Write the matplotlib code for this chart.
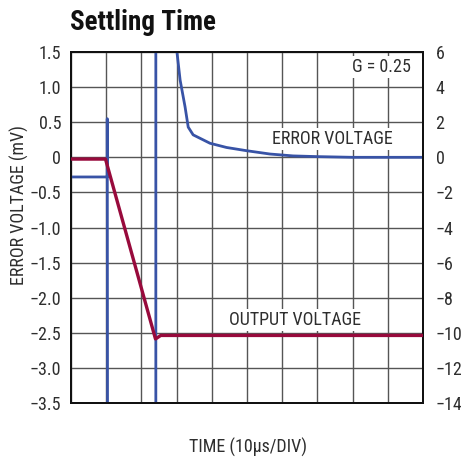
import matplotlib
matplotlib.use("Agg")
from matplotlib import pyplot as plt

# time in divisions (10us/DIV)
err_t = [0, 1.0, 1.03, 1.03, 1.04, 2.41, 2.41, 3.0, 3.01, 3.10, 3.24, 3.33, 3.47,
         3.95, 4.42, 4.99, 5.65, 6.31, 7.0, 8.0, 9.0, 10.0]
err_mv = [-0.28, -0.28, -0.28, 0.55, -5.0, -5.0, 5.0, 5.0, 1.5, 1.10, 0.72, 0.43, 0.32,
          0.20, 0.14, 0.094, 0.047, 0.02, 0.01, 0.0, 0.0, 0.0]

out_t = [0, 0.98, 2.40, 2.55, 5.0, 10.0]
out_v = [-0.1, -0.1, -10.35, -10.15, -10.15, -10.15]

left_ticks = [1.5, 1.0, 0.5, 0, -0.5, -1.0, -1.5, -2.0, -2.5, -3.0, -3.5]
left_labels = ["1.5", "1.0", "0.5", "0", "\u22120.5", "\u22121.0", "\u22121.5",
               "\u22122.0", "\u22122.5", "\u22123.0", "\u22123.5"]
right_ticks = [6, 4, 2, 0, -2, -4, -6, -8, -10, -12, -14]
right_labels = ["6", "4", "2", "0", "\u22122", "\u22124", "\u22126", "\u22128",
                "\u221210", "\u221212", "\u221214"]

plt.rcParams['font.family'] = ['Roboto Condensed', 'DejaVu Sans']

blue = "#3853a6"
red = "#980a3c"
txt = "#2e2e2e"

fig = plt.figure(figsize=(4.61, 4.62), dpi=100)
ax = fig.add_axes([0.154, 0.1277, 0.7636, 0.7597])
ax2 = ax.twinx()

ax.set_xlim(0, 10)
ax.set_ylim(-3.5, 1.5)
ax2.set_ylim(-14, 6)
ax.set_xticks(range(11))
ax.set_xticklabels([])
ax.set_yticks(left_ticks)
ax.set_yticklabels(left_labels)
ax2.set_yticks(right_ticks)
ax2.set_yticklabels(right_labels)
ax.grid(True, color="#555555", linewidth=1.0)
ax.tick_params(length=0, labelsize=13, colors=txt, pad=7)
ax2.tick_params(length=0, labelsize=13, colors=txt, pad=9)
for a in (ax, ax2):
    for s in a.spines.values():
        s.set_linewidth(1.4)
        s.set_color("#111111")

ax.plot(err_t, err_mv, color=blue, linewidth=2.0, zorder=3)
ax2.plot(out_t, out_v, color=red, linewidth=2.4, solid_joinstyle="round", zorder=4)

fig.text(0.043, 0.556, "ERROR VOLTAGE (mV)", fontsize=13, color=txt,
         rotation=90, ha="center", va="center")
fig.text(0.537, 1 - 447 / 462, "TIME (10\u00b5s/DIV)", fontsize=13, color=txt,
         ha="center", va="center")

box = dict(facecolor="white", edgecolor="none", pad=1.5)
ax.text(5.7, 0.26, "ERROR VOLTAGE", fontsize=13, color=txt,
        ha="left", va="center", zorder=5, bbox=box)
ax.text(4.5, -2.32, "OUTPUT VOLTAGE", fontsize=13, color=txt,
        ha="left", va="center", zorder=5, bbox=box)
ax.text(9.65, 1.29, "G = 0.25", fontsize=13, color=txt,
        ha="right", va="center", zorder=5, bbox=box)

fig.text(0.152, 0.952, "Settling Time", fontsize=19.5, fontweight="bold",
         color="#111111", ha="left", va="center")

fig.savefig("out.png", dpi=100)
